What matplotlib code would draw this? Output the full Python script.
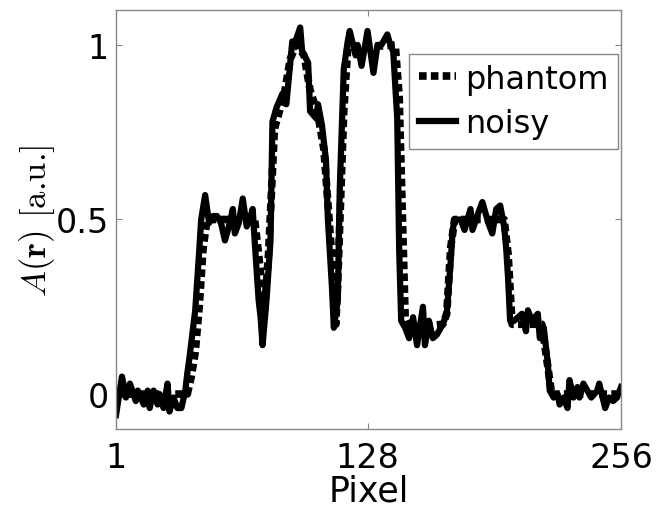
import numpy as np
import matplotlib
matplotlib.use('Agg')
import matplotlib.pyplot as plt

# perfil do phantom (pontos de quebra: pixel, amplitude)
phantom_px = [1, 37, 39, 41, 43, 45, 47, 71, 73, 76, 78, 81, 86, 89, 92, 96, 99, 103,
              106, 110, 112, 113, 116, 118, 142, 144, 147, 149, 166, 168, 170, 172,
              197, 199, 201, 216, 219, 221, 256]
phantom_val = [0.0, 0.0, 0.05, 0.12, 0.25, 0.42, 0.5, 0.5, 0.4, 0.24, 0.4, 0.76, 0.86, 0.96,
               1.0, 0.97, 0.87, 0.8, 0.7, 0.39, 0.2, 0.33, 0.81, 0.99, 1.0, 0.85, 0.22,
               0.19, 0.2, 0.23, 0.42, 0.5, 0.5, 0.4, 0.2, 0.2, 0.08, 0.0, 0.0]

# perfil com ruido, um bloco por trecho
noisy_px = [1, 4, 6, 8, 11, 12, 15, 17, 18, 20, 22, 23, 25, 27, 28, 30, 32, 34,
            36, 37, 38, 41, 43, 44,
            46, 48, 50, 52, 54, 56, 58, 60, 61, 63, 65, 67, 69, 70,
            71, 73, 74, 75, 77, 79, 80,
            82, 85, 87, 90, 91, 94, 95, 98, 99, 102, 103, 105,
            107, 108, 110, 111, 113, 114, 116, 118,
            119, 122, 123, 125, 128, 129, 131, 133, 135, 138, 139, 141,
            143, 144, 145, 147,
            149, 151, 153, 156, 157, 159, 161, 163, 166, 168,
            170, 171, 172, 175, 177, 180, 181, 184, 186, 189,
            191, 193, 195, 197, 198, 199, 200,
            202, 204, 206, 208, 209, 211, 214, 215, 217,
            219, 220, 222, 224, 225, 227, 229, 230, 232, 234, 235, 237,
            239, 241, 244, 245, 248, 250, 252, 254, 256]
noisy_val = [-0.06, 0.05, -0.01, 0.03, -0.02, 0.01, -0.03, 0.01, -0.04, 0.01, -0.03, 0.0, -0.04, 0.03, -0.05, -0.01, -0.04, -0.04,
             0.01, 0.06, 0.10, 0.24, 0.41, 0.5,
             0.57, 0.49, 0.51, 0.51, 0.49, 0.44, 0.48, 0.53, 0.46, 0.49, 0.56, 0.48, 0.51, 0.53,
             0.44, 0.27, 0.22, 0.14, 0.27, 0.44, 0.78,
             0.82, 0.86, 0.83, 1.01, 1.0, 1.05, 0.98, 0.95, 0.81, 0.79, 0.83, 0.77,
             0.67, 0.5, 0.31, 0.19, 0.27, 0.59, 0.93, 1.01,
             1.04, 0.97, 1.0, 0.94, 1.04, 1.0, 0.92, 1.0, 1.0, 1.03, 1.01, 0.98,
             0.79, 0.41, 0.21, 0.19,
             0.16, 0.22, 0.14, 0.25, 0.14, 0.21, 0.16, 0.17, 0.2, 0.23,
             0.38, 0.47, 0.5, 0.5, 0.47, 0.53, 0.47, 0.52, 0.55, 0.49,
             0.46, 0.53, 0.54, 0.48, 0.42, 0.33, 0.21,
             0.21, 0.22, 0.23, 0.18, 0.24, 0.21, 0.23, 0.16, 0.19,
             0.09, 0.01, -0.01, 0.0, -0.03, -0.01, -0.04, 0.04, -0.01, 0.02, -0.01, 0.03,
             0.01, -0.01, 0.01, 0.03, -0.04, -0.01, -0.02, -0.01, 0.02]

x_ticks = [1, 128, 256]
y_ticks = [0, 0.5, 1]

plt.rcParams['font.family'] = ['DejaVu Sans']
plt.rcParams['mathtext.fontset'] = 'cm'

fig = plt.figure(figsize=(6.57, 5.10), dpi=100)
ax = fig.add_axes([0.1766, 0.1569, 0.7686, 0.8215])

ax.plot(phantom_px, phantom_val, color='black', lw=5.5, linestyle=(0, (1.0, 0.55)),
        dash_capstyle='butt', label='phantom')
ax.plot(noisy_px, noisy_val, color='black', lw=4.5, solid_joinstyle='round', label='noisy')

ax.set_xlim(1, 256)
ax.set_ylim(-0.1, 1.1)
ax.set_xticks(x_ticks)
ax.set_xticklabels(['1', '128', '256'])
ax.set_yticks(y_ticks)
ax.set_yticklabels(['0', '0.5', '1'])
ax.tick_params(direction='in', length=4, color='#888888', labelsize=24,
               top=True, right=True)
ax.tick_params(axis='x', pad=9)
ax.tick_params(axis='y', pad=5)
for s in ax.spines.values():
    s.set_color('#888888')
    s.set_linewidth(1)

ax.set_xlabel('Pixel', fontsize=25, labelpad=-1)
# rotulo y: parte em modo matematico + texto em cmr10
ax.set_ylabel(r'$A(\mathbf{r})$ [a.u.]', fontsize=25, labelpad=-1,
              family=['cmr10', 'DejaVu Sans'])

leg = ax.legend(loc='upper right', bbox_to_anchor=(0.995, 0.895), borderaxespad=0,
                fontsize=23, handlelength=1.15, handletextpad=0.3, borderpad=0.3,
                labelspacing=0.42, fancybox=False, framealpha=1)
leg.get_frame().set_edgecolor('#888888')
leg.get_frame().set_linewidth(1)

fig.savefig('out.png', dpi=100)
